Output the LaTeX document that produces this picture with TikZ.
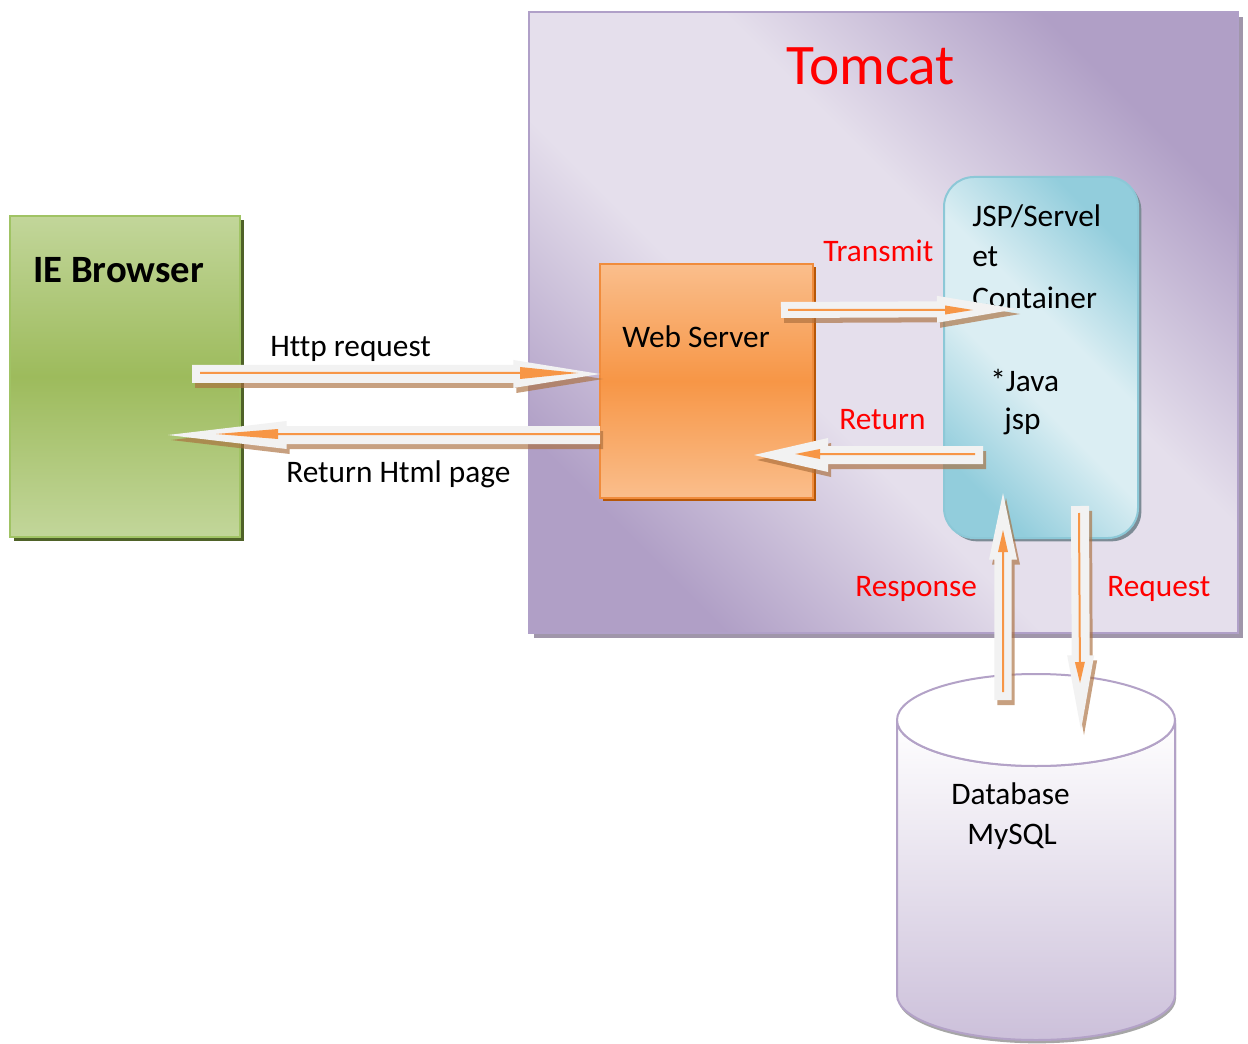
\documentclass[tikz,border=0pt]{standalone}
\usepackage{fontspec}
\setmainfont{Carlito}[Ligatures=CommonOff]
\usetikzlibrary{calc,shadows}
\definecolor{tcDark}{RGB}{176,159,198}
\definecolor{tcLight}{RGB}{229,223,236}
\definecolor{tcBorder}{RGB}{176,160,200}
\definecolor{tcShadow}{RGB}{160,150,170}
\definecolor{ieTop}{RGB}{194,214,154}
\definecolor{ieMid}{RGB}{157,187,92}
\definecolor{ieBorder}{RGB}{160,195,100}
\definecolor{ieShadow}{RGB}{79,98,40}
\definecolor{wsLight}{RGB}{250,190,140}
\definecolor{wsMid}{RGB}{247,150,70}
\definecolor{wsBorder}{RGB}{240,140,60}
\definecolor{wsShadow}{RGB}{182,87,8}
\definecolor{jsLight}{RGB}{219,238,243}
\definecolor{jsDark}{RGB}{146,205,220}
\definecolor{jsBorder}{RGB}{140,200,215}
\definecolor{jsShadow}{RGB}{125,140,150}
\definecolor{dbBottom}{RGB}{204,192,218}
\definecolor{dbBorder}{RGB}{179,162,199}
\definecolor{arrFill}{RGB}{242,242,242}
\definecolor{arrShadow}{RGB}{170,110,60}
\definecolor{arrOrange}{RGB}{247,150,70}
\pgfdeclareverticalshading{tcshade}{100bp}{color(0bp)=(tcDark); color(25bp)=(tcDark);
  color(42bp)=(tcLight); color(58bp)=(tcLight); color(75bp)=(tcDark); color(100bp)=(tcDark)}
\pgfdeclareverticalshading{jsshade}{100bp}{color(0bp)=(jsDark); color(25bp)=(jsDark);
  color(44bp)=(jsLight); color(56bp)=(jsLight); color(75bp)=(jsDark); color(100bp)=(jsDark)}
\newcommand\blockarrow[6]{%
  \path[#6] ($(#1)!#3!90:(#2)$)
    -- ($($(#2)!#5!(#1)$)!#3!90:(#2)$)
    -- ($($(#2)!#5!(#1)$)!#4!90:(#2)$)
    -- (#2)
    -- ($($(#2)!#5!(#1)$)!#4!-90:(#2)$)
    -- ($($(#2)!#5!(#1)$)!#3!-90:(#2)$)
    -- ($(#1)!#3!-90:(#2)$) -- cycle;}
\newcommand\fullarrow[9]{% from to shafthalf headhalf headlen ofrom oto oheadhalf oheadlen
  \begin{scope}[transform canvas={shift={(2.25pt,-3.75pt)}}]
    \blockarrow{#1}{#2}{#3}{#4}{#5}{fill=arrShadow,fill opacity=0.65}
  \end{scope}
  \blockarrow{#1}{#2}{#3}{#4}{#5}{fill=arrFill}
  \blockarrow{#6}{#7}{0.75pt}{#8}{#9}{fill=arrOrange}}
\begin{document}
\begin{tikzpicture}[x=0.75pt,y=-0.75pt,
  lbl/.style={anchor=base west, inner sep=0pt, font=\fontsize{23.5}{28}\selectfont},
  boxnode/.style={inner sep=0pt}]
\useasboundingbox (0,0) rectangle (1248,1044);
\fill[white] (0,0) rectangle (1248,1044);

% Tomcat
\node[boxnode, name=tomcat, draw=tcBorder, line width=1.5pt,
  shading=tcshade, shading angle=-45,
  minimum width=531.75pt, minimum height=465.75pt,
  drop shadow={shadow xshift=3.5pt, shadow yshift=-4pt, fill=tcShadow, opacity=1}]
  at (883.5,322.5) {};

% IE Browser
\node[boxnode, name=ie, draw=ieBorder, line width=1.5pt,
  top color=ieTop, bottom color=ieTop, middle color=ieMid,
  minimum width=172.5pt, minimum height=240.75pt,
  drop shadow={shadow xshift=3pt, shadow yshift=-3pt, fill=ieShadow, opacity=1}]
  at (125,376.5) {};

% Web Server
\node[boxnode, name=ws, draw=wsBorder, line width=1.5pt,
  top color=wsLight, bottom color=wsLight, middle color=wsMid,
  minimum width=159.75pt, minimum height=175.5pt,
  drop shadow={shadow xshift=2.6pt, shadow yshift=-2.6pt, fill=wsShadow, opacity=1}]
  at (706.5,381) {};

% JSP container
\node[boxnode, name=jsp, draw=jsBorder, line width=1.5pt, rounded corners=22.5pt,
  shading=jsshade, shading angle=-45,
  minimum width=145.5pt, minimum height=270.75pt,
  drop shadow={shadow xshift=2.5pt, shadow yshift=-2.5pt, fill=jsShadow, opacity=1}]
  at (1041,357.5) {};

% Database
\node[boxnode, name=db, minimum width=208.5pt, minimum height=274.5pt] at (1036,857) {};
\begin{scope}[transform canvas={shift={(0.8pt,-2.5pt)}}]
  \fill[gray!70] (897,720) -- (897,995) arc[start angle=180, end angle=0, x radius=139, y radius=45]
    -- (1175,720) -- cycle;
\end{scope}
\path[draw=dbBorder, line width=1.5pt, top color=white, bottom color=dbBottom]
  (897,720) -- (897,995) arc[start angle=180, end angle=0, x radius=139, y radius=45]
  -- (1175,720) arc[start angle=0, end angle=180, x radius=139, y radius=46] -- cycle;
\draw[dbBorder, line width=1.5pt, fill=white] (1036,720) ellipse [x radius=139, y radius=46];

% texts
\node[lbl, font=\fontsize{43}{50}\selectfont, text=red] (ttitle) at (786,85) {Tomcat};
\node[lbl, font=\bfseries\fontsize{29}{34}\selectfont] (ietext) at (33,283) {IE Browser};
\node[lbl] (wstext) at (622,348) {Web Server};
\node[lbl] (hrq) at (270,357) {Http request};
\node[lbl] (rhp) at (286,482) {Return Html page};
\node[lbl, text=red] (ttr) at (823,262) {Transmit};
\node[lbl, text=red] (tret) at (839,429) {Return};
\node[lbl, text=red] (tresp) at (855,596) {Response};
\node[lbl, text=red] (treq) at (1107,596) {Request};
\node[lbl] (j1) at (972,227) {JSP/Servel};
\node[lbl] (j2) at (972,267) {et};
\node[lbl] (j3) at (972,309) {Container};
\node[lbl] (j4) at (990,392) {*Java};
\node[lbl] (j5) at (1004,430) {jsp};
\node[lbl] (d1) at (951,804) {Database};
\node[lbl] (d2) at (967,844) {MySQL};

% arrow coordinates
\coordinate (a1s) at (192,374);  \coordinate (a1e) at (600,374);
\coordinate (o1s) at (200,373);  \coordinate (o1e) at (578,373);
\coordinate (a2s) at (600,435);  \coordinate (a2e) at (168,435);
\coordinate (o2s) at (600,434);  \coordinate (o2e) at (216,434);
\coordinate (a3s) at (781,310);  \coordinate (a3e) at (1017,309);
\coordinate (o3s) at (788,310);  \coordinate (o3e) at (973,310);
\coordinate (a4s) at (983,455);  \coordinate (a4e) at (754,455);
\coordinate (o4s) at (975,454);  \coordinate (o4e) at (795,454);
\coordinate (a5s) at (1003,700); \coordinate (a5e) at (1003,493);
\coordinate (o5s) at (1003,692); \coordinate (o5e) at (1003,530);
\coordinate (a6s) at (1080,506); \coordinate (a6e) at (1081,730);
\coordinate (o6s) at (1079,513); \coordinate (o6e) at (1080,683);

\fullarrow{a1s}{a1e}{6.75pt}{10.5pt}{65pt}{o1s}{o1e}{4.5pt}{43.5pt}
\fullarrow{a2s}{a2e}{6.75pt}{10.5pt}{89pt}{o2s}{o2e}{3.75pt}{46.5pt}
\fullarrow{a3s}{a3e}{6pt}{10.1pt}{60pt}{o3s}{o3e}{3.4pt}{21pt}
\fullarrow{a4s}{a4e}{6.75pt}{12.75pt}{55.5pt}{o4s}{o4e}{3.75pt}{18.75pt}
\fullarrow{a5s}{a5e}{6.4pt}{10.5pt}{50pt}{o5s}{o5e}{3.75pt}{16.5pt}
\fullarrow{a6s}{a6e}{6.75pt}{10.1pt}{56pt}{o6s}{o6e}{3.75pt}{15.75pt}
\end{tikzpicture}
\end{document}
